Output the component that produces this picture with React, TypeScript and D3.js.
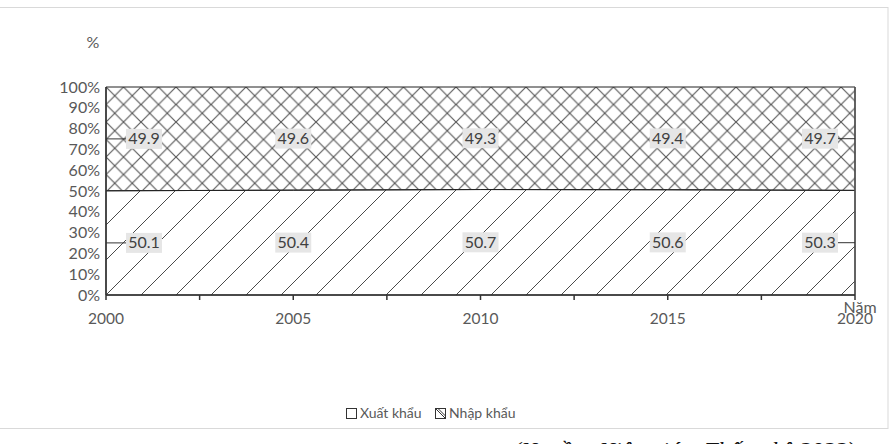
import React from "react";
import * as d3 from "d3";

const years = [2000, 2005, 2010, 2015, 2020];
const xuatKhau = [50.1, 50.4, 50.7, 50.6, 50.3];
const nhapKhau = [49.9, 49.6, 49.3, 49.4, 49.7];
const yTicks = [0, 10, 20, 30, 40, 50, 60, 70, 80, 90, 100];
const xMinorTicks = [2000, 2002.5, 2005, 2007.5, 2010, 2012.5, 2015, 2017.5, 2020];
const xLabels = [2000, 2005, 2010, 2015, 2020];
const seriesNames = ["Xuất khẩu", "Nhập khẩu"];

const W = 891;
const H = 444;
const L = 106, R = 855, T = 87, B = 295;
const FONT = "Lato, 'Open Sans', sans-serif";
const GRAY = "#595959";

export default function App() {
  const x = d3.scaleLinear().domain([2000, 2020]).range([L, R]);
  const y = d3.scaleLinear().domain([0, 100]).range([B, T]);

  const rows = years.map((yr, i) => ({ year: yr, xk: xuatKhau[i], nk: nhapKhau[i] }));
  const stack = d3.stack<any>().keys(["xk", "nk"]).offset(d3.stackOffsetExpand);
  const series = stack(rows);
  const area = d3
    .area<any>()
    .x((d) => x(d.data.year))
    .y0((d) => y(d[0] * 100))
    .y1((d) => y(d[1] * 100));

  const dW = 35;
  const cW = 17.5;
  const diag = (w: number) =>
    `M0,${w} L${w},0 M${-w / 4},${w / 4} L${w / 4},${-w / 4} M${(3 * w) / 4},${(5 * w) / 4} L${(5 * w) / 4},${(3 * w) / 4}`;
  const anti = (w: number) =>
    `M0,0 L${w},${w} M${-w / 4},${(3 * w) / 4} L${w / 4},${(5 * w) / 4} M${(3 * w) / 4},${-w / 4} L${(5 * w) / 4},${w / 4}`;

  const labels: any[] = [];
  series.forEach((s, si) => {
    s.forEach((d: any, i: number) => {
      const val = si === 0 ? xuatKhau[i] : nhapKhau[i];
      const cy = y(((d[0] + d[1]) / 2) * 100);
      const px = x(years[i]);
      let cx = px;
      let lead: number[] | null = null;
      if (i === 0) {
        cx = px + 38;
        lead = [px, px + 20];
      } else if (i === years.length - 1) {
        cx = px - 35;
        lead = [px - 17, px];
      }
      labels.push({ text: val.toFixed(1), cx, cy, lead });
    });
  });

  return (
    <svg
      width={W}
      height={H}
      style={{ position: "absolute", left: 0, top: 0, background: "#fff" }}
      fontFamily={FONT}
    >
      <defs>
        <pattern id="diag" patternUnits="userSpaceOnUse" width={dW} height={dW} x={L} y={B}>
          <path d={diag(dW)} stroke="#4a4a4a" strokeWidth={1} fill="none" />
        </pattern>
        <pattern id="cross" patternUnits="userSpaceOnUse" width={cW} height={cW} x={L} y={T}>
          <path d={diag(cW) + " " + anti(cW)} stroke="#5a5a5a" strokeWidth={1.2} fill="none" />
        </pattern>
      </defs>
      <rect x={-1} y={7.5} width={889} height={421} fill="#fff" stroke="#d9d9d9" />

      {series.map((s, si) => (
        <path
          key={si}
          d={area(s as any) || ""}
          fill={si === 0 ? "url(#diag)" : "url(#cross)"}
          stroke="#222"
          strokeWidth={1}
        />
      ))}
      <line x1={R} x2={R} y1={T} y2={B} stroke="#555" strokeWidth={1.5} />
      {/* axes */}
      <line x1={L} x2={L} y1={T} y2={B} stroke="#333" strokeWidth={1.5} />
      <line x1={L} x2={R} y1={B} y2={B} stroke="#333" strokeWidth={1.5} />
      {xMinorTicks.map((t) => (
        <line key={t} x1={x(t)} x2={x(t)} y1={B} y2={B + 5} stroke="#333" strokeWidth={1.5} />
      ))}
      {yTicks.map((t) => (
        <text key={t} x={L - 6} y={y(t)} dy="0.35em" textAnchor="end" fontSize={16} fill={GRAY}>
          {t}%
        </text>
      ))}
      {xLabels.map((t) => (
        <text key={t} x={x(t)} y={324} textAnchor="middle" fontSize={15.5} fill={GRAY}>
          {t}
        </text>
      ))}
      <text x={93} y={48} textAnchor="middle" fontSize={16} fill={GRAY}>
        %
      </text>
      <text x={860} y={313} textAnchor="middle" fontSize={16} fill={GRAY}>
        Năm
      </text>

      {labels.map((lb, i) => (
        <g key={i}>
          {lb.lead && (
            <line x1={lb.lead[0]} x2={lb.lead[1]} y1={lb.cy} y2={lb.cy} stroke="#333" strokeWidth={1} />
          )}
          <rect x={lb.cx - 18} y={lb.cy - 10} width={36} height={20} fill="#e6e6e6" />
          <text x={lb.cx} y={lb.cy} dy="0.35em" textAnchor="middle" fontSize={16} fill="#404040">
            {lb.text}
          </text>
        </g>
      ))}

      {/* legend */}
      <rect x={346.5} y={408.5} width={10} height={10} fill="#fff" stroke="#333" />
      <text x={360} y={418} fontSize={14} fill={GRAY}>
        {seriesNames[0]}
      </text>
      <rect x={435.5} y={408.5} width={10} height={10} fill="#fff" stroke="#333" />
      <line x1={435.5} y1={408.5} x2={445.5} y2={418.5} stroke="#333" />
      <line x1={438} y1={408.5} x2={445.5} y2={416} stroke="#333" />
      <text x={449} y={418} fontSize={14} fill={GRAY}>
        {seriesNames[1]}
      </text>

      <text x={513} y={458} fontSize={24} fontStyle="italic" fontFamily="'Liberation Serif', 'DejaVu Serif', serif" fill="#111">
        (Nguồn: Niên giám Thống kê 2022)
      </text>
    </svg>
  );
}
